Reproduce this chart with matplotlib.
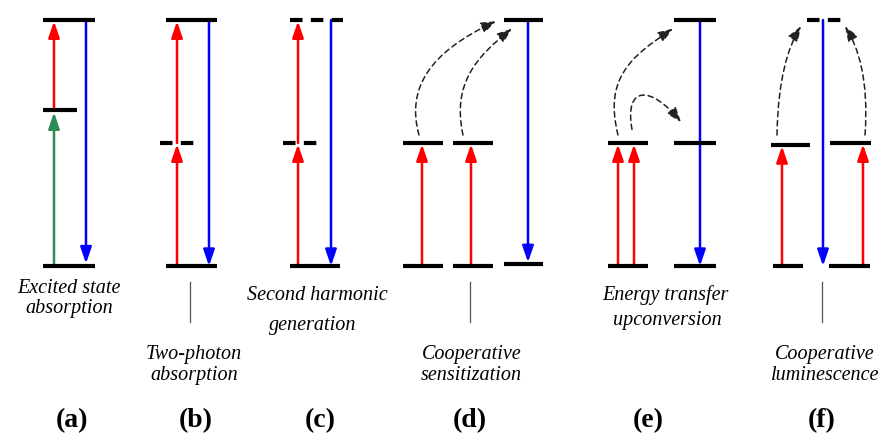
import matplotlib
matplotlib.use("Agg")
import matplotlib.pyplot as plt
from matplotlib.patches import FancyArrowPatch
from matplotlib.path import Path

# ---- data (x in pixels, energy E in level units: ground 0, intermediate 1, upper 2) ----
# levels: (x_start, x_end, energy, dashed?)
levels_a = [(43, 95, 0.0, False), (43, 77, 1.27, False), (43, 95, 2.0, False)]
levels_b = [(166, 217, 0.0, False), (160, 200, 1.0, True), (166, 217, 2.0, False)]
levels_c = [(290, 340, 0.0, False), (283, 322, 1.0, True), (290, 343, 2.0, True)]
levels_d = [(403, 443, 0.0, False), (403, 443, 1.0, False), (453, 493, 0.0, False),
            (453, 493, 1.0, False), (504, 543, 0.015, False), (504, 543, 2.0, False)]
levels_e = [(608, 648, 0.0, False), (608, 648, 1.0, False), (674, 716, 0.0, False),
            (674, 716, 1.0, False), (674, 716, 2.0, False)]
levels_f = [(773, 803, 0.0, False), (829, 870, 0.0, False), (771, 810, 0.985, False),
            (830, 871, 1.0, False), (807, 845, 2.0, True)]

# straight transitions: (x, E_from, E_to, colour)
arrows_a = [(54, 0.0, 1.25, "green"), (54, 1.27, 1.99, "red"), (86, 2.0, 0.02, "blue")]
arrows_b = [(177, 0.0, 0.99, "red"), (177, 1.0, 1.99, "red"), (209, 2.0, 0.0, "blue")]
arrows_c = [(298, 0.0, 0.99, "red"), (298, 1.0, 1.99, "red"), (331, 2.0, 0.0, "blue")]
arrows_d = [(422, 0.0, 0.99, "red"), (471, 0.0, 0.99, "red"), (528, 2.0, 0.03, "blue")]
arrows_e = [(618, 0.0, 0.99, "red"), (634, 0.0, 0.99, "red"), (700, 2.0, 0.0, "blue")]
arrows_f = [(782, 0.0, 0.975, "red"), (863, 0.0, 0.99, "red"), (823, 2.0, 0.0, "blue")]

# energy-transfer curves (cubic Bezier: start, ctrl1, ctrl2, end)
curves = [
    [(419, 1.065), (406, 1.45), (430, 1.74), (496, 1.99)],
    [(463, 1.065), (452, 1.48), (476, 1.70), (512, 1.93)],
    [(618, 1.065), (604, 1.52), (630, 1.70), (673, 1.93)],
    [(632, 1.11), (624, 1.48), (652, 1.46), (681, 1.17)],
    [(777, 1.065), (778, 1.52), (788, 1.78), (801, 1.95)],
    [(865, 1.065), (869, 1.52), (858, 1.78), (845, 1.95)],
]

# description text lines: (text, x centre, baseline energy)
descr_lines = [
    ("Excited state", 69, -0.215), ("absorption", 69, -0.378),
    ("Two-photon", 194, -0.752), ("absorption", 194, -0.915),
    ("Second harmonic", 317, -0.268), ("generation", 313, -0.512),
    ("Cooperative", 472, -0.752), ("sensitization", 471, -0.915),
    ("Energy transfer", 665, -0.268), ("upconversion", 667, -0.472),
    ("Cooperative", 825, -0.752), ("luminescence", 825, -0.915),
]
panel_text = ["(a)", "(b)", "(c)", "(d)", "(e)", "(f)"]
panel_x = [72, 196, 320, 470, 648, 822]
panel_y = -1.25
tick_x = [190, 470, 822]

colors = {"red": "#ff0000", "blue": "#0000ff", "green": "#2e8b57"}

fig = plt.figure(figsize=(8.85, 4.35), dpi=100)
ax = fig.add_axes([0, 0, 1, 1])
ax.set_xlim(0, 885)
ax.set_ylim(-1.366, 2.171)
ax.axis("off")

for lv in [levels_a, levels_b, levels_c, levels_d, levels_e, levels_f]:
    for x0, x1, E, dashed in lv:
        ls = (0, (3.0, 2.0)) if dashed else "-"
        ax.plot([x0, x1], [E, E], color="black", lw=3.0, ls=ls, solid_capstyle="butt",
                dash_capstyle="butt", zorder=3)

for arr in [arrows_a, arrows_b, arrows_c, arrows_d, arrows_e, arrows_f]:
    for x, e0, e1, c in arr:
        ax.add_patch(FancyArrowPatch((x, e0), (x, e1),
                                     arrowstyle="-|>,head_length=0.7,head_width=0.24",
                                     mutation_scale=14, lw=1.8, color=colors[c],
                                     shrinkA=0, shrinkB=0, zorder=2))

for pts in curves:
    path = Path(pts, [Path.MOVETO, Path.CURVE4, Path.CURVE4, Path.CURVE4])
    ax.add_patch(FancyArrowPatch(path=path,
                                 arrowstyle="-|>,head_length=0.65,head_width=0.24",
                                 mutation_scale=14, lw=1.1, color="#222222",
                                 linestyle=(0, (3.5, 2.5)), zorder=2))

for x in tick_x:
    ax.plot([x, x], [-0.13, -0.455], color="#555555", lw=0.9)

for t, x, y in descr_lines:
    ax.text(x, y, t, ha="center", va="baseline", fontsize=14.5, style="italic",
            family="Liberation Serif")

for t, x in zip(panel_text, panel_x):
    ax.text(x, panel_y, t, ha="center", va="center", fontsize=20, fontweight="bold",
            family="Liberation Serif")

fig.savefig("out.png", dpi=100)
